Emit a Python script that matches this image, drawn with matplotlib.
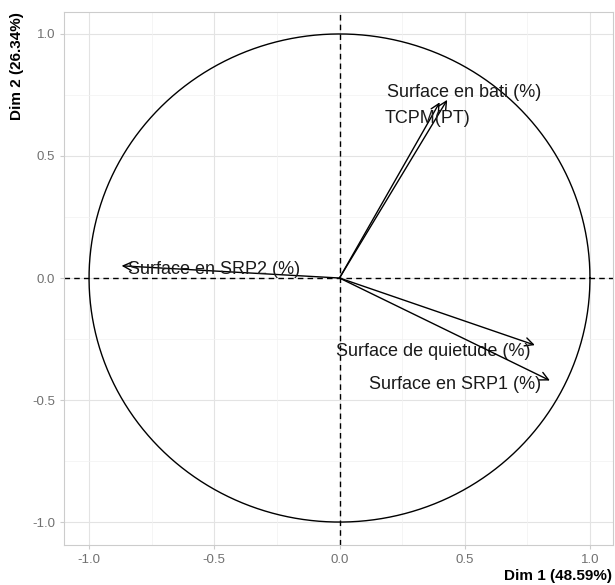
import numpy as np
import matplotlib.pyplot as plt

# variable coordinates on Dim 1 / Dim 2
variables = ["Surface en bati (%)", "TCPM(PT)", "Surface en SRP2 (%)",
             "Surface de quietude (%)", "Surface en SRP1 (%)"]
dim1 = [0.40, 0.43, -0.87, 0.78, 0.84]
dim2 = [0.72, 0.73, 0.05, -0.275, -0.42]
# label anchor points (where the text sits)
lab_x = [0.497, 0.35, -0.50, 0.373, 0.463]
lab_y = [0.76, 0.652, 0.036, -0.30, -0.437]

ticks = [-1.0, -0.5, 0.0, 0.5, 1.0]
minor = [-0.75, -0.25, 0.25, 0.75]

plt.rcParams['font.family'] = ['Liberation Sans', 'DejaVu Sans']

fig = plt.figure(figsize=(6.15, 5.85), dpi=100)
ax = fig.add_axes([64/615, 40/585, 549/615, 533/585])

# grid
for t in ticks:
    ax.axvline(t, color='#e3e3e3', lw=0.8, zorder=0)
    ax.axhline(t, color='#e3e3e3', lw=0.8, zorder=0)
for t in minor:
    ax.axvline(t, color='#f2f2f2', lw=0.5, zorder=0)
    ax.axhline(t, color='#f2f2f2', lw=0.5, zorder=0)

# correlation circle
th = np.linspace(0, 2*np.pi, 400)
ax.plot(np.cos(th), np.sin(th), color='black', lw=1.0)
ax.axhline(0, color='black', lw=1.0, ls=(0, (4, 3)))
ax.axvline(0, color='black', lw=1.0, ls=(0, (4, 3)))

for name, x, y, lx, ly in zip(variables, dim1, dim2, lab_x, lab_y):
    ax.annotate('', xy=(x, y), xytext=(0, 0),
                arrowprops=dict(arrowstyle='->', color='black', lw=1.0,
                                mutation_scale=15, shrinkA=0, shrinkB=0))
    ax.text(lx, ly, name, ha='center', va='center', fontsize=13, color='#1a1a1a')

ax.set_xlim(-1.1, 1.092)
ax.set_ylim(-1.094, 1.09)
ax.set_xticks(ticks)
ax.set_yticks(ticks)
ax.set_xticklabels(['-1.0', '-0.5', '0.0', '0.5', '1.0'])
ax.set_yticklabels(['-1.0', '-0.5', '0.0', '0.5', '1.0'])
ax.tick_params(colors='#cccccc', labelcolor='#707070', labelsize=9.5, length=3, width=0.8)
for s in ax.spines.values():
    s.set_color('#cccccc')
    s.set_linewidth(0.8)

fig.text(612/615, 1 - 576/585, 'Dim 1 (48.59%)', ha='right', va='center',
         fontsize=11, fontweight='bold')
fig.text(17/615, 1 - 12/585, 'Dim 2 (26.34%)', ha='center', va='top',
         rotation=90, fontsize=11, fontweight='bold')

fig.savefig('out.png', dpi=100)
